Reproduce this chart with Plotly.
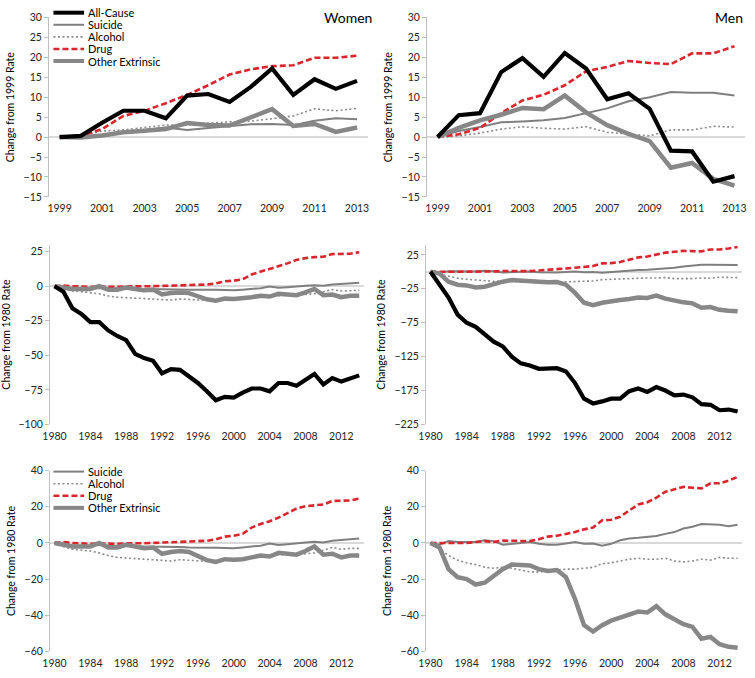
import plotly.graph_objects as go

# ---------------- data ----------------
years_99 = list(range(1999, 2014))
years_80 = list(range(1980, 2015))

# Women, change from 1999 rate
w99_all = [0, 0.3, 3.6, 6.6, 6.6, 4.7, 10.4, 10.8, 8.8, 12.6, 17.2, 10.6, 14.5, 12.1, 14.1]
w99_suicide = [0, 0, 0.5, 1.2, 1.8, 2.4, 1.8, 2.3, 2.8, 3.2, 3.3, 3.0, 4.1, 4.7, 4.5]
w99_alcohol = [0, 0.3, 1.5, 1.8, 2.4, 3.0, 3.0, 3.5, 3.8, 4.0, 4.6, 5.3, 7.1, 6.6, 7.2]
w99_drug = [0, 0.3, 2.0, 5.3, 6.6, 8.5, 10.6, 13.0, 15.7, 17.0, 17.8, 18.0, 19.9, 19.9, 20.4]
w99_other = [0, -0.1, 0.4, 1.2, 1.6, 2.0, 3.5, 3.0, 2.9, 5.0, 7.0, 2.8, 3.3, 1.3, 2.4]

# Men, change from 1999 rate
m99_all = [0, 5.5, 6.0, 16.3, 19.8, 15.1, 21.1, 17.2, 9.5, 11.0, 7.1, -3.4, -3.6, -11.2, -9.8]
m99_suicide = [0, 1.5, 2.5, 3.7, 3.9, 4.2, 4.8, 6.0, 7.2, 9.0, 10.0, 11.3, 11.1, 11.1, 10.4]
m99_alcohol = [0, 0.3, 1.0, 2.0, 2.6, 2.2, 2.0, 2.6, 1.2, 0.8, 0.3, 1.8, 1.8, 2.7, 2.5]
m99_drug = [0, 0.7, 2.3, 6.0, 9.2, 10.6, 13.0, 16.5, 17.6, 19.1, 18.6, 18.3, 21.0, 21.0, 22.8]
m99_other = [0, 2.3, 4.2, 5.6, 7.3, 7.0, 10.4, 6.2, 3.0, 0.8, -1.0, -7.7, -6.5, -10.5, -12.2]

# Women, change from 1980 rate
w80_all = [0, -4, -16, -20, -26, -26, -32, -36, -39, -49, -52, -54, -63, -60, -60.5,
           -65, -70, -76, -82.5, -80, -80.5, -77, -74, -74, -76, -70, -70, -72, -68,
           -63.5, -71, -66.5, -69, -67, -64.5]
w80_suicide = [0, -1, -1.5, -1.5, -1.5, -1, -1.5, -1.5, -1.5, -1.8, -2, -2, -2.2, -2.3,
               -2.3, -2.5, -2.5, -2.3, -2.6, -2.8, -3, -2.5, -2, -1.5, -0.3, -1.2, -0.7,
               0, 0.3, 0.6, 0.3, 1.2, 1.7, 1.8, 2.4]
w80_alcohol = [0, -2, -3.5, -4, -4.5, -5.5, -7, -8, -8.3, -8.5, -9, -9.3, -9.8, -10, -9.3,
               -9.5, -10, -10.2, -9.8, -9.5, -9, -8.5, -8, -7.5, -7, -6.5, -6.5, -6.5, -6,
               -5.5, -4, -2.5, -3.5, -3, -3]
w80_drug = [0, 0.5, 0, -0.3, -0.5, -0.3, -0.5, -0.5, -0.2, -0.3, -0.2, 0, 0.2, 0.4, 0.5,
            0.7, 1.0, 1.2, 2.0, 3.5, 4.0, 5.0, 8.5, 10.5, 12.0, 14.0, 16.5, 19.0, 20.3,
            21.0, 21.3, 23.2, 23.3, 23.5, 24.5]
w80_other = [0, -1, -2, -2, -2, 0, -2.5, -2.5, -1, -2, -3, -2.5, -6, -5, -4.5, -5, -7.5,
             -9.5, -10.5, -9, -9.3, -9, -8, -7, -7.5, -5.5, -6, -6.5, -4.5, -2, -6.5, -6,
             -8, -7, -7]

# Men, change from 1980 rate
m80_all = [0, -18, -38, -63, -75, -81, -93, -103, -110, -125, -135, -138, -143, -143,
           -142, -147, -164, -187, -194, -191, -187, -187, -176, -172, -177, -170, -175,
           -182, -181, -185, -195, -196, -204, -203, -206]
m80_suicide = [0, -1, 1, 0.5, 0.5, 0.5, 1.5, 1, -1, -0.3, 0, 0.5, -0.5, -1, -1, -0.3, 0.5,
               -0.5, -0.3, -1.5, -0.5, 1.5, 2.5, 2.8, 3.2, 3.8, 5, 6, 8, 9, 10.5, 10.3,
               10, 9.3, 10]
m80_alcohol = [0, -3, -7, -9.5, -11, -12, -13.5, -14, -13.5, -14, -15, -16, -16, -15.5,
               -15, -14.5, -14.5, -14, -13.5, -11.5, -11, -10, -9, -8.5, -9, -9, -8.5, -10,
               -10.5, -10, -9, -9.5, -8, -8.5, -8.5]
m80_drug = [0, 0, 0, 0, 0, 0.5, 1, 0.5, 1.3, 1.2, 1, 1, 2, 3.5, 4, 5, 6, 7.5, 8.5, 12.5,
            12.8, 14.5, 18, 21.3, 22.5, 25, 28.3, 29.5, 31, 30.5, 30.2, 33, 33, 34.5, 36.5]
m80_other = [0, -2.5, -14.5, -19, -20, -23, -22, -18, -14.5, -12, -12.5, -12.5, -14.5,
             -15.5, -15, -19, -31, -45.5, -49, -45.5, -43, -41.5, -40, -38, -38.5, -35,
             -39.5, -42.5, -45, -46.5, -53, -52, -56, -57.5, -58]

ticks_99 = [1999, 2001, 2003, 2005, 2007, 2009, 2011, 2013]
ticks_80 = [1980, 1984, 1988, 1992, 1996, 2000, 2004, 2008, 2012]

# ---------------- styles ----------------
FONT = "Lato"
TXT = "#262626"
styles = {
    "All-Cause": dict(color="#000000", width=4.2, dash="solid"),
    "Suicide": dict(color="#7f7f7f", width=2.0, dash="solid"),
    "Alcohol": dict(color="#8a8a8a", width=1.6, dash="2px,2.5px"),
    "Drug": dict(color="#d9262c", width=2.6, dash="6px,3px"),
    "Other Extrinsic": dict(color="#878787", width=4.5, dash="solid"),
}
draw_order = ["Alcohol", "Suicide", "Drug", "Other Extrinsic", "All-Cause"]

W, H = 755, 678
def px_x(a, b):
    return [a / W, b / W]
def px_y(top, bottom):
    return [(H - bottom) / H, (H - top) / H]

panels = [
    ("", px_x(41.5, 364), px_y(11.7, 194.3), years_99,
     {"All-Cause": w99_all, "Suicide": w99_suicide, "Alcohol": w99_alcohol,
      "Drug": w99_drug, "Other Extrinsic": w99_other},
     [-15, 30], list(range(-15, 31, 5)), ticks_99, [1998.5, 2013.5], "Change from 1999 Rate"),
    ("2", px_x(424, 746), px_y(11.7, 194.3), years_99,
     {"All-Cause": m99_all, "Suicide": m99_suicide, "Alcohol": m99_alcohol,
      "Drug": m99_drug, "Other Extrinsic": m99_other},
     [-15, 30], list(range(-15, 31, 5)), ticks_99, [1998.5, 2013.5], "Change from 1999 Rate"),
    ("3", px_x(42.5, 360), px_y(243, 426), years_80,
     {"All-Cause": w80_all, "Suicide": w80_suicide, "Alcohol": w80_alcohol,
      "Drug": w80_drug, "Other Extrinsic": w80_other},
     [-100, 30], list(range(-100, 26, 25)), ticks_80, [1979.5, 2014.5], "Change from 1980 Rate"),
    ("4", px_x(423, 743), px_y(243, 426), years_80,
     {"All-Cause": m80_all, "Suicide": m80_suicide, "Alcohol": m80_alcohol,
      "Drug": m80_drug, "Other Extrinsic": m80_other},
     [-225, 40], list(range(-225, 26, 50)), ticks_80, [1979.5, 2014.5], "Change from 1980 Rate"),
    ("5", px_x(42.5, 360), px_y(473, 657), years_80,
     {"Suicide": w80_suicide, "Alcohol": w80_alcohol,
      "Drug": w80_drug, "Other Extrinsic": w80_other},
     [-60, 40], list(range(-60, 41, 20)), ticks_80, [1979.5, 2014.5], "Change from 1980 Rate"),
    ("6", px_x(423, 743), px_y(473, 657), years_80,
     {"Suicide": m80_suicide, "Alcohol": m80_alcohol,
      "Drug": m80_drug, "Other Extrinsic": m80_other},
     [-60, 40], list(range(-60, 41, 20)), ticks_80, [1979.5, 2014.5], "Change from 1980 Rate"),
]

fig = go.Figure()
layout = dict(
    width=W, height=H, margin=dict(l=0, r=0, t=0, b=0),
    paper_bgcolor="white", plot_bgcolor="white", showlegend=False,
    font=dict(family=FONT, size=10.5, color=TXT),
)
shapes = []
annotations = []

for suf, xd, yd, yrs, series, yr, ytv, xtv, xr, ytitle in panels:
    xa, ya = "x" + suf, "y" + suf
    for name in draw_order:
        if name not in series:
            continue
        st = styles[name]
        fig.add_trace(go.Scatter(
            x=yrs, y=series[name], mode="lines", name=name,
            xaxis=xa, yaxis=ya,
            line=dict(color=st["color"], width=st["width"], dash=st["dash"]),
        ))
    layout["xaxis" + suf] = dict(
        domain=xd, range=xr, anchor=ya, tickvals=xtv, showgrid=False,
        zeroline=False, showline=False, ticks="", tickfont=dict(size=10.5, color=TXT),
        ticklabelstandoff=4,
    )
    layout["yaxis" + suf] = dict(
        domain=yd, range=yr, anchor=xa, tickvals=ytv, showgrid=False,
        zeroline=True, zerolinecolor="#d9d9d9", zerolinewidth=1.5,
        showline=True, linecolor="#bfbfbf", linewidth=1,
        ticks="outside", ticklen=4, tickcolor="#bfbfbf",
        tickfont=dict(size=10.5, color=TXT),
        title=dict(text=ytitle, font=dict(size=10.5, color="#000000"), standoff=6),
    )

# legends drawn inside the top-left and bottom-left panels
def add_legend(xref, yref, names, top_px, dom_top_px, dom_bottom_px, x0, x1):
    step = 12.3
    for i, name in enumerate(names):
        st = styles[name]
        ypix = top_px + i * step
        yv = (dom_bottom_px - ypix) / (dom_bottom_px - dom_top_px)
        shapes.append(dict(
            type="line", xref=xref + " domain", yref=yref + " domain",
            x0=x0, x1=x1, y0=yv, y1=yv,
            line=dict(color=st["color"], width=min(st["width"], 4), dash=st["dash"]),
        ))
        annotations.append(dict(
            text=name, xref=xref + " domain", yref=yref + " domain",
            x=x1 + 0.005, y=yv, xanchor="left", yanchor="middle", showarrow=False,
            font=dict(family=FONT, size=11, color="#000000"),
        ))

add_legend("x", "y", ["All-Cause", "Suicide", "Alcohol", "Drug", "Other Extrinsic"],
           6.8, 11.7, 194.3, (46 - 41.5) / 322.5, (77 - 41.5) / 322.5)
add_legend("x5", "y5", ["Suicide", "Alcohol", "Drug", "Other Extrinsic"],
           474, 473, 657, (46 - 42.5) / 317.5, (77 - 42.5) / 317.5)

annotations.append(dict(text="Women", xref="paper", yref="paper", x=370 / W, y=(H - 12) / H,
                        xanchor="right", yanchor="middle", showarrow=False,
                        font=dict(family=FONT, size=14, color="#000000")))
annotations.append(dict(text="Men", xref="paper", yref="paper", x=746 / W, y=(H - 12) / H,
                        xanchor="right", yanchor="middle", showarrow=False,
                        font=dict(family=FONT, size=14, color="#000000")))

layout["shapes"] = shapes
layout["annotations"] = annotations
fig.update_layout(**layout)
fig.write_html("out.html", config={"displayModeBar": False},
               post_script="document.body.style.margin='0px';document.body.style.overflow='hidden';")
